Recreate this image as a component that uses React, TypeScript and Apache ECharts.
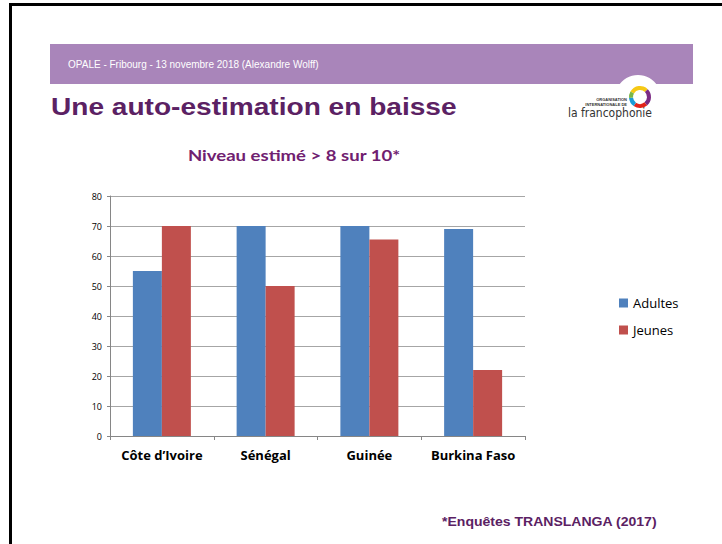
import React, { useEffect, useRef } from "react";
import * as echarts from "echarts";

const categories = ["Côte d’Ivoire", "Sénégal", "Guinée", "Burkina Faso"];
const adultes = [55, 70, 70, 69];
const jeunes = [70, 50, 65.5, 22];
const seriesNames = ["Adultes", "Jeunes"];

const headerText = "OPALE - Fribourg - 13 novembre 2018 (Alexandre Wolff)";
const slideTitle = "Une auto-estimation en baisse";
const chartTitle = "Niveau estimé > 8 sur 10*";
const footnote = "*Enquêtes TRANSLANGA (2017)";

const PURPLE_DARK = "#5B2163";
const CHART_FONT = "'Open Sans', Lato, sans-serif";
const ARIAL = "'Liberation Sans', Arial, sans-serif";

export default function App() {
  const ref = useRef<HTMLDivElement>(null);

  useEffect(() => {
    if (!ref.current) return;
    const chart = echarts.init(ref.current, undefined, { renderer: "svg" });
    const ringCx = 640;
    const ringCy = 97;
    const deg = Math.PI / 180;
    const ringSegs = [
      { c: "#F6C915", a0: -150, a1: -45 },
      { c: "#7B2A83", a0: -45, a1: 50 },
      { c: "#E2231A", a0: 50, a1: 125 },
      { c: "#1C9AD6", a0: 125, a1: 175 },
      { c: "#7AB648", a0: 175, a1: 210 },
    ];
    chart.setOption({
      animation: false,
      backgroundColor: "#ffffff",
      graphic: [
        { type: "line", shape: { x1: 9, y1: 4.5, x2: 722, y2: 4.5 }, style: { stroke: "#000", lineWidth: 3 } },
        { type: "line", shape: { x1: 10.5, y1: 3, x2: 10.5, y2: 544 }, style: { stroke: "#000", lineWidth: 3 } },
        { type: "rect", shape: { x: 50, y: 44, width: 643, height: 40 }, style: { fill: "#A985BA" } },
        {
          type: "text",
          x: 68,
          y: 64,
          style: { text: headerText, x: 0, y: 0, fill: "#ffffff", font: "10px " + ARIAL, verticalAlign: "middle" },
        },
        {
          type: "text",
          x: 51,
          y: 107,
          scaleX: 1.17,
          style: { text: slideTitle, x: 0, y: 0, fill: PURPLE_DARK, font: "bold 24px " + ARIAL, verticalAlign: "middle" },
        },
        { type: "circle", shape: { cx: 638, cy: 98, r: 23 }, style: { fill: "#ffffff" } },
        ...ringSegs.map((s) => ({
          type: "sector",
          shape: { cx: ringCx, cy: ringCy, r0: 7, r: 11, startAngle: s.a0 * deg, endAngle: s.a1 * deg },
          style: { fill: s.c },
        })),
        {
          type: "text",
          style: { text: "ORGANISATION", x: 627, y: 99, align: "right", verticalAlign: "middle", fill: "#333", font: "bold 4px " + ARIAL },
        },
        {
          type: "text",
          style: { text: "INTERNATIONALE DE", x: 627, y: 104, align: "right", verticalAlign: "middle", fill: "#333", font: "bold 4px " + ARIAL },
        },
        {
          type: "text",
          style: { text: "la francophonie", x: 610, y: 113, align: "center", verticalAlign: "middle", fill: "#333", font: "12px 'Liberation Sans Narrow', 'DejaVu Sans Condensed', 'Liberation Sans', sans-serif" },
        },
        {
          type: "text",
          x: 294,
          y: 155,
          scaleX: 1.16,
          style: { text: chartTitle, x: 0, y: 0, align: "center", verticalAlign: "middle", fill: "#702070", font: "bold 16px Lato, sans-serif" },
        },
        {
          type: "text",
          x: 442,
          y: 522,
          scaleX: 1.08,
          style: { text: footnote, x: 0, y: 0, verticalAlign: "middle", fill: PURPLE_DARK, font: "bold 13px " + ARIAL },
        },
      ],
      legend: {
        orient: "vertical",
        left: 619,
        top: 295,
        padding: 0,
        itemWidth: 9,
        itemHeight: 9,
        itemGap: 11,
        icon: "rect",
        data: seriesNames,
        textStyle: { fontFamily: CHART_FONT, fontSize: 13, color: "#000", lineHeight: 16 },
      },
      grid: { left: 110, right: 197, top: 196, bottom: 108, containLabel: false },
      xAxis: {
        type: "category",
        data: categories,
        axisLine: { lineStyle: { color: "#868686", width: 1 } },
        axisTick: { show: true, length: 4, lineStyle: { color: "#868686" }, alignWithLabel: false },
        axisLabel: { interval: 0, fontFamily: CHART_FONT, fontWeight: "bold", fontSize: 13, color: "#000", margin: 12 },
      },
      yAxis: {
        type: "value",
        min: 0,
        max: 80,
        interval: 10,
        axisLine: { show: true, lineStyle: { color: "#868686", width: 1 } },
        axisTick: { show: true, length: 3, lineStyle: { color: "#868686" } },
        splitLine: { lineStyle: { color: "#A6A6A6", width: 1 } },
        axisLabel: { fontFamily: CHART_FONT, fontSize: 9, color: "#000", margin: 8 },
      },
      series: [
        { name: seriesNames[0], type: "bar", data: adultes, barWidth: 29, barGap: "0%", itemStyle: { color: "#4F81BD" } },
        { name: seriesNames[1], type: "bar", data: jeunes, barWidth: 29, barGap: "0%", itemStyle: { color: "#C0504D" } },
      ],
    });
    return () => chart.dispose();
  }, []);

  return (
    <div
      ref={ref}
      style={{ position: "absolute", left: 0, top: 0, width: 722, height: 544, background: "#fff" }}
    />
  );
}
